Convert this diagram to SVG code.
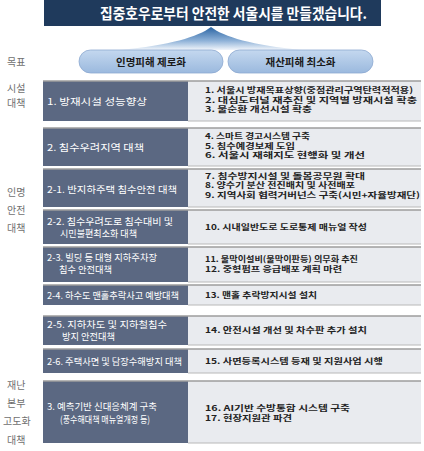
<svg xmlns="http://www.w3.org/2000/svg" width="424" height="451" viewBox="0 0 424 451">
<defs>
<linearGradient id="fan" x1="0" y1="0" x2="0" y2="1">
<stop offset="0" stop-color="#2a64a3"/>
<stop offset="0.6" stop-color="#8fb2d8"/>
<stop offset="1" stop-color="#f2f6fb"/>
</linearGradient>
<linearGradient id="pill" x1="0" y1="0" x2="0" y2="1">
<stop offset="0" stop-color="#c4d8ef"/>
<stop offset="1" stop-color="#9bb9de"/>
</linearGradient>
<style>
text{font-family:"Noto Sans CJK KR","Noto Sans",sans-serif}
.title{font-size:15px;font-weight:bold;fill:#ffffff}
.pt{font-size:10.5px;font-weight:bold;fill:#1a1a1a}
.lbl{font-size:10px;fill:#6f6f6f}
.lt{font-size:9.5px;fill:#ffffff}
.rt{font-size:8px;font-weight:bold;fill:#222222}
.dark{fill:#5b6882}
.light{fill:#e9ebef}
.top{stroke:#9c9c9c;stroke-width:1.5}
.bot{stroke:#b8b8b8;stroke-width:1}
</style>
</defs>
<rect width="424" height="451" fill="#ffffff"/>

<g id="title">
<rect x="44" y="0" width="337" height="26" fill="#1f3a5c"/>
<text class="title" x="100" y="18.5" textLength="267" lengthAdjust="spacingAndGlyphs">집중호우로부터 안전한 서울시를 만들겠습니다.</text>
</g>

<g id="connectors">
<path d="M120 50 C170 45 198 37 211 27 C224 37 252 45 302 50 Z" fill="url(#fan)"/>
</g>

<g id="goal-label"><text class="lbl" x="7" y="65.5">목표</text></g>
<g id="goal-1">
<rect x="79" y="50" width="144" height="23" rx="11.5" fill="url(#pill)" stroke="#8eaad0" stroke-width="0.8"/>
<text class="pt" x="151" y="65.5" text-anchor="middle">인명피해 제로화</text>
</g>
<g id="goal-2">
<rect x="228" y="50" width="145" height="23" rx="11.5" fill="url(#pill)" stroke="#8eaad0" stroke-width="0.8"/>
<text class="pt" x="300.5" y="65.5" text-anchor="middle">재산피해 최소화</text>
</g>

<g id="cat-facility">
<text class="lbl" x="7" y="92">시설</text>
<text class="lbl" x="7" y="107">대책</text>
</g>
<g id="cat-life">
<text class="lbl" x="7" y="196">인명</text>
<text class="lbl" x="7" y="214">안전</text>
<text class="lbl" x="7" y="232">대책</text>
</g>
<g id="cat-hq">
<text class="lbl" x="7" y="389">재난</text>
<text class="lbl" x="7" y="407">본부</text>
<text class="lbl" x="3" y="425">고도화</text>
<text class="lbl" x="7" y="444">대책</text>
</g>

<g id="row-1">
<rect class="light" x="188" y="81" width="233" height="40"/>
<rect class="dark" x="43" y="81" width="145" height="40"/>
<line class="top" x1="43" y1="81" x2="421" y2="81"/>
<line class="bot" x1="188" y1="121" x2="421" y2="121"/>
<text class="lt" x="47" y="104.5" textLength="100" lengthAdjust="spacingAndGlyphs">1. 방재시설 성능향상</text>
<text class="rt" x="205" y="93" textLength="208" lengthAdjust="spacingAndGlyphs">1. 서울시 방재목표상향(중점관리구역탄력적적용)</text>
<text class="rt" x="205" y="102.5" textLength="212" lengthAdjust="spacingAndGlyphs">2. 대심도터널 재추진 및 지역별 방재시설 확충</text>
<text class="rt" x="205" y="112" textLength="107" lengthAdjust="spacingAndGlyphs">3. 물순환 개선시설 확충</text>
</g>

<g id="row-2">
<rect class="light" x="188" y="128" width="233" height="38"/>
<rect class="dark" x="43" y="128" width="145" height="38"/>
<line class="top" x1="43" y1="128" x2="421" y2="128"/>
<line class="bot" x1="188" y1="166" x2="421" y2="166"/>
<text class="lt" x="47" y="150.5" textLength="97" lengthAdjust="spacingAndGlyphs">2. 침수우려지역 대책</text>
<text class="rt" x="205" y="139" textLength="105" lengthAdjust="spacingAndGlyphs">4. 스마트 경고시스템 구축</text>
<text class="rt" x="205" y="148.5" textLength="90" lengthAdjust="spacingAndGlyphs">5. 침수예경보제 도입</text>
<text class="rt" x="205" y="158" textLength="160" lengthAdjust="spacingAndGlyphs">6. 서울시 재해지도 현행화 및 개선</text>
</g>

<g id="row-2-1">
<rect class="light" x="188" y="169" width="233" height="38"/>
<rect class="dark" x="43" y="169" width="145" height="38"/>
<line class="top" x1="43" y1="169" x2="421" y2="169"/>
<line class="bot" x1="188" y1="207" x2="421" y2="207"/>
<text class="lt" x="47" y="192.5" textLength="130" lengthAdjust="spacingAndGlyphs">2-1. 반지하주택 침수안전 대책</text>
<text class="rt" x="205" y="178.5" textLength="160" lengthAdjust="spacingAndGlyphs">7. 침수방지시설 및 돌봄공무원 확대</text>
<text class="rt" x="205" y="188" textLength="150" lengthAdjust="spacingAndGlyphs">8. 양수기 분산 전진배치 및 사전배포</text>
<text class="rt" x="205" y="197.5" textLength="215" lengthAdjust="spacingAndGlyphs">9. 지역사회 협력거버넌스 구축(시민+자율방재단)</text>
</g>

<g id="row-2-2">
<rect class="light" x="188" y="210" width="233" height="34"/>
<rect class="dark" x="43" y="210" width="145" height="34"/>
<line class="top" x1="43" y1="210" x2="421" y2="210"/>
<line class="bot" x1="188" y1="244" x2="421" y2="244"/>
<text class="lt" x="47" y="224.5" textLength="126" lengthAdjust="spacingAndGlyphs">2-2. 침수우려도로 침수대비 및</text>
<text class="lt" x="60" y="237" textLength="77" lengthAdjust="spacingAndGlyphs">시민불편최소화 대책</text>
<text class="rt" x="205" y="230" textLength="162" lengthAdjust="spacingAndGlyphs">10. 시내일반도로 도로통제 매뉴얼 작성</text>
</g>

<g id="row-2-3">
<rect class="light" x="188" y="247" width="233" height="35"/>
<rect class="dark" x="43" y="247" width="145" height="35"/>
<line class="top" x1="43" y1="247" x2="421" y2="247"/>
<line class="bot" x1="188" y1="282" x2="421" y2="282"/>
<text class="lt" x="47" y="260.5" textLength="110" lengthAdjust="spacingAndGlyphs">2-3. 빌딩 등 대형 지하주차장</text>
<text class="lt" x="59" y="273" textLength="53" lengthAdjust="spacingAndGlyphs">침수 안전대책</text>
<text class="rt" x="205" y="262" textLength="153" lengthAdjust="spacingAndGlyphs">11. 물막이설비(물막이판등) 의무화 추진</text>
<text class="rt" x="205" y="272" textLength="137" lengthAdjust="spacingAndGlyphs">12. 중형펌프 응급배포 계획 마련</text>
</g>

<g id="row-2-4">
<rect class="light" x="188" y="285" width="233" height="20"/>
<rect class="dark" x="43" y="285" width="145" height="20"/>
<line class="top" x1="43" y1="285" x2="421" y2="285"/>
<line class="bot" x1="188" y1="305" x2="421" y2="305"/>
<text class="lt" x="47" y="298.5" textLength="132" lengthAdjust="spacingAndGlyphs">2-4. 하수도 맨홀추락사고 예방대책</text>
<text class="rt" x="205" y="298" textLength="112" lengthAdjust="spacingAndGlyphs">13. 맨홀 추락방지시설 설치</text>
</g>

<g id="row-2-5">
<rect class="light" x="188" y="316" width="233" height="29"/>
<rect class="dark" x="43" y="316" width="145" height="29"/>
<line class="top" x1="43" y1="316" x2="421" y2="316"/>
<line class="bot" x1="188" y1="345" x2="421" y2="345"/>
<text class="lt" x="47" y="327.5" textLength="120" lengthAdjust="spacingAndGlyphs">2-5. 지하차도 및 지하철침수</text>
<text class="lt" x="62" y="340" textLength="53" lengthAdjust="spacingAndGlyphs">방지 안전대책</text>
<text class="rt" x="205" y="333" textLength="162" lengthAdjust="spacingAndGlyphs">14. 안전시설 개선 및 차수판 추가 설치</text>
</g>

<g id="row-2-6">
<rect class="light" x="188" y="349" width="233" height="24"/>
<rect class="dark" x="43" y="349" width="145" height="24"/>
<line class="top" x1="43" y1="349" x2="421" y2="349"/>
<line class="bot" x1="188" y1="373" x2="421" y2="373"/>
<text class="lt" x="47" y="364.5" textLength="135" lengthAdjust="spacingAndGlyphs">2-6. 주택사면 및 담장수해방지 대책</text>
<text class="rt" x="205" y="364" textLength="178" lengthAdjust="spacingAndGlyphs">15. 사면등록시스템 등재 및 지원사업 시행</text>
</g>

<g id="row-3">
<rect class="light" x="188" y="381" width="233" height="62"/>
<rect class="dark" x="43" y="381" width="145" height="62"/>
<line class="top" x1="43" y1="381" x2="421" y2="381"/>
<line class="bot" x1="188" y1="443" x2="421" y2="443"/>
<text class="lt" x="47" y="410" textLength="110" lengthAdjust="spacingAndGlyphs">3. 예측기반 신대응체계 구축</text>
<text class="lt" x="60" y="422.5" textLength="90" lengthAdjust="spacingAndGlyphs">(풍수해대책 매뉴얼개정 등)</text>
<text class="rt" x="205" y="410.5" textLength="145" lengthAdjust="spacingAndGlyphs">16. AI기반 수방통합 시스템 구축</text>
<text class="rt" x="205" y="420.5" textLength="87" lengthAdjust="spacingAndGlyphs">17. 현장지원관 파견</text>
</g>
</svg>
